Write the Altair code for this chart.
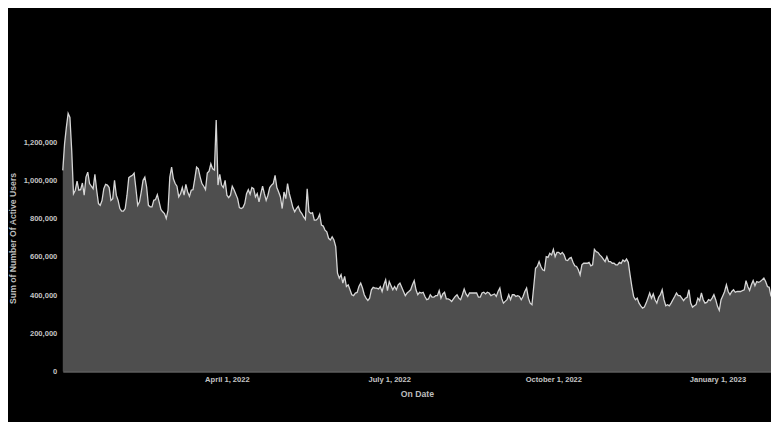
import altair as alt
import pandas as pd

# Daily "Sum of Number Of Active Users" (thousands)
active_users_k = [
    1054, 1193, 1280, 1353, 1332, 1158, 932, 950, 998, 950,
    953, 988, 924, 1019, 1045, 985, 971, 958, 1033, 950,
    880, 871, 897, 958, 981, 977, 964, 897, 906, 1002,
    924, 897, 854, 840, 840, 854, 924, 1016, 1023, 1028,
    1040, 958, 871, 889, 941, 1002, 1019, 967, 871, 863,
    863, 897, 901, 927, 889, 849, 837, 828, 802, 845,
    1019, 1071, 1010, 985, 971, 915, 932, 964, 924, 981,
    941, 918, 950, 953, 1010, 1071, 1062, 1019, 985, 971,
    953, 1040, 1050, 1089, 1062, 1056, 1318, 977, 1033, 977,
    964, 1002, 924, 911, 924, 971, 953, 929, 906, 859,
    854, 859, 880, 932, 953, 929, 964, 958, 915, 932,
    889, 932, 971, 932, 897, 924, 964, 977, 985, 1028,
    964, 941, 915, 854, 941, 906, 985, 932, 897, 859,
    837, 854, 866, 840, 828, 810, 797, 958, 837, 828,
    832, 793, 793, 802, 824, 767, 762, 741, 732, 698,
    689, 706, 689, 654, 515, 489, 507, 463, 498, 445,
    454, 428, 402, 397, 411, 414, 445, 463, 437, 402,
    384, 372, 384, 428, 441, 437, 437, 432, 445, 419,
    454, 480, 424, 471, 449, 428, 445, 428, 454, 463,
    441, 419, 397, 411, 419, 428, 454, 476, 428, 402,
    415, 411, 415, 393, 376, 380, 402, 389, 389, 397,
    397, 424, 384, 406, 415, 380, 380, 376, 367, 380,
    393, 402, 384, 376, 402, 432, 406, 393, 411, 411,
    411, 411, 411, 389, 389, 411, 415, 406, 415, 411,
    397, 402, 406, 393, 419, 437, 384, 358, 367, 376,
    402, 376, 402, 402, 393, 397, 393, 376, 393, 419,
    437, 384, 358, 350, 445, 541, 550, 576, 550, 533,
    529, 602, 598, 619, 611, 640, 602, 624, 624, 615,
    624, 611, 584, 581, 593, 598, 572, 554, 550, 533,
    506, 559, 567, 567, 567, 572, 554, 559, 640, 628,
    624, 611, 602, 589, 576, 602, 576, 576, 567, 567,
    559, 559, 572, 567, 584, 576, 589, 572, 506, 445,
    393, 376, 384, 358, 344, 332, 337, 358, 384, 411,
    384, 406, 376, 358, 389, 402, 428, 376, 344, 350,
    344, 358, 376, 393, 411, 397, 397, 384, 371, 384,
    389, 428, 358, 337, 344, 350, 384, 371, 411, 376,
    358, 362, 376, 371, 384, 402, 376, 341, 320, 376,
    397, 419, 454, 419, 402, 419, 428, 415, 419, 419,
    419, 424, 428, 476, 445, 424, 454, 476, 449, 471,
    467, 471, 480, 489, 471, 445, 441, 393,
]
first_date = "2021-12-30"
y_ticks = [0, 200000, 400000, 600000, 800000, 1000000, 1200000]
x_tick_dates = [(2022, 4, 1), (2022, 7, 1), (2022, 10, 1), (2023, 1, 1)]

dates = pd.date_range(first_date, periods=len(active_users_k), freq="D").strftime("%Y/%m/%d")
df = pd.DataFrame({"On Date": list(dates), "Users": [v * 1000 for v in active_users_k]})

chart = alt.Chart(df).mark_area(
    color="#4e4e4e",
    fillOpacity=1,
    line={"color": "#d6d6d6", "strokeWidth": 1.3},
).encode(
    x=alt.X(
        "On Date:T",
        title="On Date",
        scale=alt.Scale(nice=False),
        axis=alt.Axis(
            values=[alt.DateTime(year=y, month=m, date=d) for (y, m, d) in x_tick_dates],
            format="%B %-d, %Y",
            ticks=False,
            labelPadding=4,
            titlePadding=7,
            domainColor="#8a8a8a",
            domainWidth=1.2,
        ),
    ),
    y=alt.Y(
        "Users:Q",
        title="Sum of Number Of Active Users",
        scale=alt.Scale(domain=[0, 1400000], nice=False),
        axis=alt.Axis(
            values=y_ticks,
            format=",.0f",
            ticks=False,
            domain=False,
            labelPadding=6,
            titlePadding=6,
        ),
    ),
).properties(
    width=711,
    height=268,
    background="black",
    autosize=alt.AutoSizeParams(type="none"),
    padding={"left": 55, "top": 96, "right": 0, "bottom": 50},
).configure_view(
    stroke=None,
).configure_axis(
    grid=False,
    labelFont="Liberation Sans",
    labelFontWeight="bold",
    labelFontSize=7.6,
    labelColor="#c4c4c4",
    titleFont="Liberation Sans",
    titleFontWeight="bold",
    titleFontSize=8.7,
    titleColor="#bdbdbd",
)

chart.save("out.html", embed_options={"renderer": "svg", "actions": False})
